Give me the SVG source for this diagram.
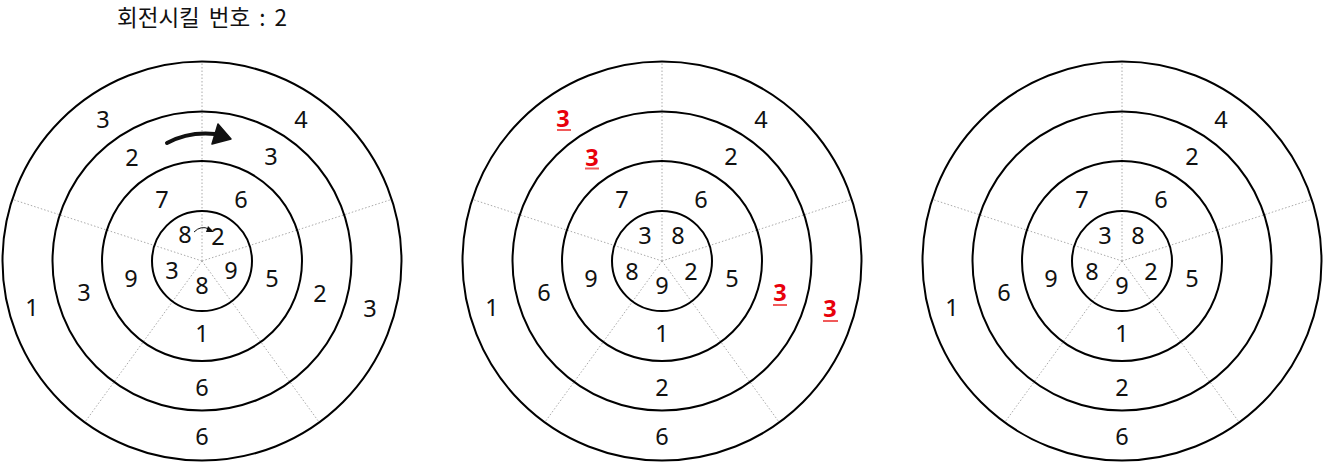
<svg xmlns="http://www.w3.org/2000/svg" xmlns:xlink="http://www.w3.org/1999/xlink" width="1324" height="463" viewBox="0 0 1324 463">
<style>
.ring{fill:none;stroke:#000;stroke-width:2}
.spoke{stroke:#aaa;stroke-width:1;stroke-dasharray:1.5 2;fill:none}
.n{font-family:"Noto Sans","Noto Sans CJK KR",sans-serif;font-size:23.5px;text-anchor:middle;fill:#111}
.r{fill:#e8000b;font-weight:bold}
.ul{stroke:#f05a5a;stroke-width:2}
.title{font-family:"Noto Sans CJK KR","Noto Sans",sans-serif;font-size:22.5px;fill:#111;word-spacing:4px}
</style>
<defs>
<g id="disc">
<line class="spoke" x1="0" y1="0" x2="0" y2="-200"/>
<line class="spoke" x1="0" y1="0" x2="190.2" y2="-61.8"/>
<line class="spoke" x1="0" y1="0" x2="117.6" y2="161.8"/>
<line class="spoke" x1="0" y1="0" x2="-117.6" y2="161.8"/>
<line class="spoke" x1="0" y1="0" x2="-190.2" y2="-61.8"/>
<circle class="ring" cx="0" cy="0" r="199.5"/>
<circle class="ring" cx="0" cy="0" r="149.5"/>
<circle class="ring" cx="0" cy="0" r="100"/>
<circle class="ring" cx="0" cy="0" r="50"/>
</g>
</defs>
<text class="title" x="117" y="26">회전시킬 번호 : 2</text>
<g id="disc1">
<use xlink:href="#disc" x="202" y="261"/>
<g class="n">
<text x="103" y="128">3</text><text x="301" y="128">4</text><text x="32" y="316">1</text><text x="370" y="317">3</text><text x="202" y="445">6</text>
<text x="132" y="166">2</text><text x="271" y="165">3</text><text x="84" y="301">3</text><text x="320" y="302">2</text><text x="202" y="396">6</text>
<text x="162" y="208">7</text><text x="241" y="208">6</text><text x="131" y="287">9</text><text x="272" y="287">5</text><text x="202" y="342">1</text>
<text x="185" y="243">8</text><text x="218" y="245">2</text><text x="172" y="279">3</text><text x="231" y="279">9</text><text x="202" y="294">8</text>
</g>
</g>
<g id="disc2">
<use xlink:href="#disc" x="662" y="261"/>
<g class="n">
<text class="r" x="563" y="127">3</text><text x="761" y="128">4</text><text x="492" y="316">1</text><text class="r" x="830" y="317">3</text><text x="662" y="445">6</text>
<text class="r" x="592" y="166">3</text><text x="731" y="165">2</text><text x="544" y="301">6</text><text class="r" x="780" y="301">3</text><text x="662" y="396">2</text>
<text x="622" y="208">7</text><text x="701" y="208">6</text><text x="591" y="287">9</text><text x="732" y="287">5</text><text x="662" y="342">1</text>
<text x="645" y="244">3</text><text x="678" y="244">8</text><text x="632" y="280">8</text><text x="691" y="280">2</text><text x="662" y="294">9</text>
</g>
<line class="ul" x1="557" y1="130" x2="571" y2="130"/>
<line class="ul" x1="585" y1="168.5" x2="599" y2="168.5"/>
<line class="ul" x1="773" y1="305" x2="787" y2="305"/>
<line class="ul" x1="823" y1="321" x2="838" y2="321"/>
</g>
<g id="disc3">
<use xlink:href="#disc" x="1122" y="261"/>
<g class="n">
<text x="1221" y="128">4</text><text x="952" y="316">1</text><text x="1122" y="445">6</text>
<text x="1192" y="165">2</text><text x="1004" y="301">6</text><text x="1122" y="396">2</text>
<text x="1082" y="208">7</text><text x="1161" y="208">6</text><text x="1051" y="287">9</text><text x="1192" y="287">5</text><text x="1122" y="342">1</text>
<text x="1105" y="244">3</text><text x="1138" y="244">8</text><text x="1092" y="280">8</text><text x="1151" y="280">2</text><text x="1122" y="294">9</text>
</g>
</g>
<g id="connectors">
<path d="M167,143 C180,136 195,132 215,134" fill="none" stroke="#111" stroke-width="4" stroke-linecap="round"/>
<polygon points="218,124 231,139 212,144" fill="#111" stroke="#111" stroke-width="1.5" stroke-linejoin="round"/>
<path d="M194,232 Q201,225 209,229" fill="none" stroke="#111" stroke-width="1"/>
<polygon points="208,226 214,232 206,232" fill="#111"/>
</g>
</svg>
